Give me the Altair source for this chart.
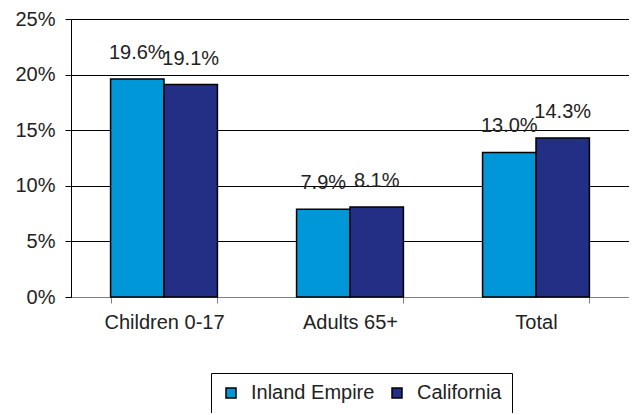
import altair as alt
import pandas as pd

categories = ["Children 0-17", "Adults 65+", "Total"]
series = ["Inland Empire", "California"]
inland_empire = [0.196, 0.079, 0.130]
california = [0.191, 0.081, 0.143]
colors = ["#0097D8", "#232F85"]
y_ticks = [0, 0.05, 0.10, 0.15, 0.20, 0.25]

rows = []
for c, a, b in zip(categories, inland_empire, california):
    rows.append({"cat": c, "series": series[0], "value": a})
    rows.append({"cat": c, "series": series[1], "value": b})
df = pd.DataFrame(rows)

FONT = "Liberation Sans"
TXT = "#222222"

x = alt.X("cat:N", sort=categories,
          scale=alt.Scale(paddingInner=0.4255, paddingOuter=0.2128),
          axis=alt.Axis(title=None, labelAngle=0, domainColor="#808080",
                        tickColor="#808080", tickBand="extent", tickSize=6,
                        labelFontSize=20, labelFont=FONT, labelColor=TXT,
                        labelPadding=9, grid=False))
xo = alt.XOffset("series:N", sort=series)
y = alt.Y("value:Q", scale=alt.Scale(domain=[0, 0.25], nice=False),
          axis=alt.Axis(title=None, values=y_ticks, format=".0%",
                        domainColor="#000000", tickColor="#000000",
                        gridColor="#000000", gridWidth=1, tickSize=6,
                        labelFontSize=20, labelFont=FONT, labelColor=TXT,
                        labelPadding=10))

bars = alt.Chart(df).mark_bar(stroke="#000000", strokeWidth=1.5).encode(
    x=x, xOffset=xo, y=y,
    color=alt.Color("series:N", sort=series,
                    scale=alt.Scale(domain=series, range=colors),
                    legend=alt.Legend(title=None, orient="none", legendX=140,
                                      legendY=354, direction="horizontal",
                                      strokeColor="#000000", fillColor="#ffffff",
                                      padding=10, symbolType="square",
                                      symbolSize=100, symbolStrokeColor="#000000",
                                      symbolStrokeWidth=1.5, symbolOpacity=1,
                                      labelFontSize=20, labelFont=FONT,
                                      labelColor=TXT, columnPadding=12,
                                      labelOffset=10)),
)

labels = alt.Chart(df).mark_text(fontSize=20, font=FONT, color=TXT,
                                 baseline="alphabetic", dy=-20).encode(
    x=alt.X("cat:N", sort=categories), xOffset=alt.XOffset("series:N", sort=series),
    y="value:Q", text=alt.Text("value:Q", format=".1%"),
)

chart = (bars + labels).properties(
    width=558, height=278,
    autosize=alt.AutoSizeParams(type="none"),
    padding={"left": 63, "top": 11, "right": 0, "bottom": 116},
).configure_view(stroke="#999999", strokeWidth=1)

chart.save("out.html", embed_options={"renderer": "svg", "actions": False})
